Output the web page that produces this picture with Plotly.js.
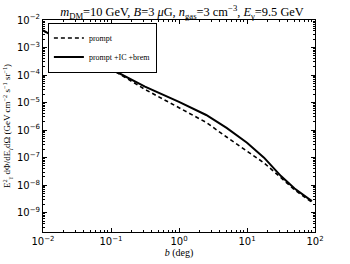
<!DOCTYPE html>
<html>
<head>
<meta charset="utf-8">
<script src="https://cdn.plot.ly/plotly-3.0.1.min.js"></script>
<style>html,body{margin:0;padding:0;background:#fff;}#chart{width:350px;height:264px;}</style>
</head>
<body>
<div id="chart"></div>
<script>
// b (deg) and flux values
const bSolid = [0.01, 0.0316, 0.1, 0.316, 1, 2.51, 5.01, 10, 17.8, 31.6, 50.1, 90];
const fluxSolid = [4.17e-3, 8.32e-4, 1.66e-4, 3.80e-5, 1.07e-5, 3.55e-6, 1.20e-6, 3.47e-7, 1.0e-7, 2.14e-8, 7.59e-9, 2.63e-9];
const bDashed = [0.01, 0.0316, 0.1, 0.158, 0.316, 1, 2.51, 5.01, 10, 17.8, 31.6, 50.1, 90];
const fluxDashed = [4.17e-3, 8.32e-4, 1.66e-4, 8.51e-5, 3.02e-5, 6.76e-6, 1.91e-6, 5.62e-7, 1.70e-7, 6.46e-8, 1.86e-8, 6.76e-9, 2.40e-9];
const seriesNames = ["prompt", "prompt +IC +brem"];
const xTickVals = [0.01, 0.1, 1, 10, 100];
const xTickText = ["10<sup>−2</sup>", "10<sup>−1</sup>", "10<sup>0</sup>", "10<sup>1</sup>", "10<sup>2</sup>"];
const yTickVals = [1e-9, 1e-8, 1e-7, 1e-6, 1e-5, 1e-4, 1e-3, 1e-2];
const yTickText = ["10<sup>−9</sup>", "10<sup>−8</sup>", "10<sup>−7</sup>", "10<sup>−6</sup>", "10<sup>−5</sup>", "10<sup>−4</sup>", "10<sup>−3</sup>", "10<sup>−2</sup>"];

const serif = "Liberation Serif, DejaVu Serif, serif";
const sans = "DejaVu Sans, sans-serif";

const traces = [
  {x: bDashed, y: fluxDashed, mode: "lines", name: seriesNames[0],
   line: {color: "#000", width: 1.6, dash: "4px,3px"}},
  {x: bSolid, y: fluxSolid, mode: "lines", name: seriesNames[1],
   line: {color: "#000", width: 2}}
];

const axisCommon = {
  type: "log", showgrid: false, zeroline: false,
  showline: true, linecolor: "#000", linewidth: 1, mirror: "allticks",
  ticks: "inside", ticklen: 4, tickwidth: 1, tickcolor: "#000",
  tickmode: "array",
  tickfont: {family: sans, size: 10, color: "#000"},
  minor: {ticks: "inside", ticklen: 2, tickcolor: "#000", dtick: "D1", showgrid: false}
};

const layout = {
  width: 350, height: 264,
  margin: {l: 43, r: 35, t: 20, b: 32},
  paper_bgcolor: "#fff", plot_bgcolor: "#fff",
  showlegend: true,
  title: {
    text: "<i>m</i><sub>DM</sub>=10 GeV, <i>B</i>=3 <i>μ</i>G, <i>n</i><sub>gas</sub>=3 cm<sup>−3</sup>, <i>E</i><sub>γ</sub>=9.5 GeV",
    font: {family: serif, size: 12.4, color: "#000"},
    x: 0.52, xanchor: "center", y: 0.972, yanchor: "top"
  },
  xaxis: Object.assign({}, axisCommon, {
    range: [-2, 2], tickvals: xTickVals, ticktext: xTickText,
    title: {text: "<i>b</i> (deg)", font: {family: serif, size: 10, color: "#000"}, standoff: 2}
  }),
  yaxis: Object.assign({}, axisCommon, {
    range: [-9.7, -2], tickvals: yTickVals, ticktext: yTickText,
    title: {text: "E<sup>2</sup><sub>γ</sub> dΦ/dE<sub>γ</sub>dΩ (GeV cm<sup>−2</sup> s<sup>−1</sup> sr<sup>−1</sup>)",
            font: {family: serif, size: 9, color: "#000"}, standoff: 4}
  }),
  legend: {
    x: 0.018, y: 0.988, xanchor: "left", yanchor: "top",
    bgcolor: "#fff", bordercolor: "#000", borderwidth: 1,
    font: {family: serif, size: 8, color: "#000"},
    tracegroupgap: 0, itemwidth: 30
  }
};

Plotly.newPlot("chart", traces, layout, {displayModeBar: false, staticPlot: true});
</script>
</body>
</html>
